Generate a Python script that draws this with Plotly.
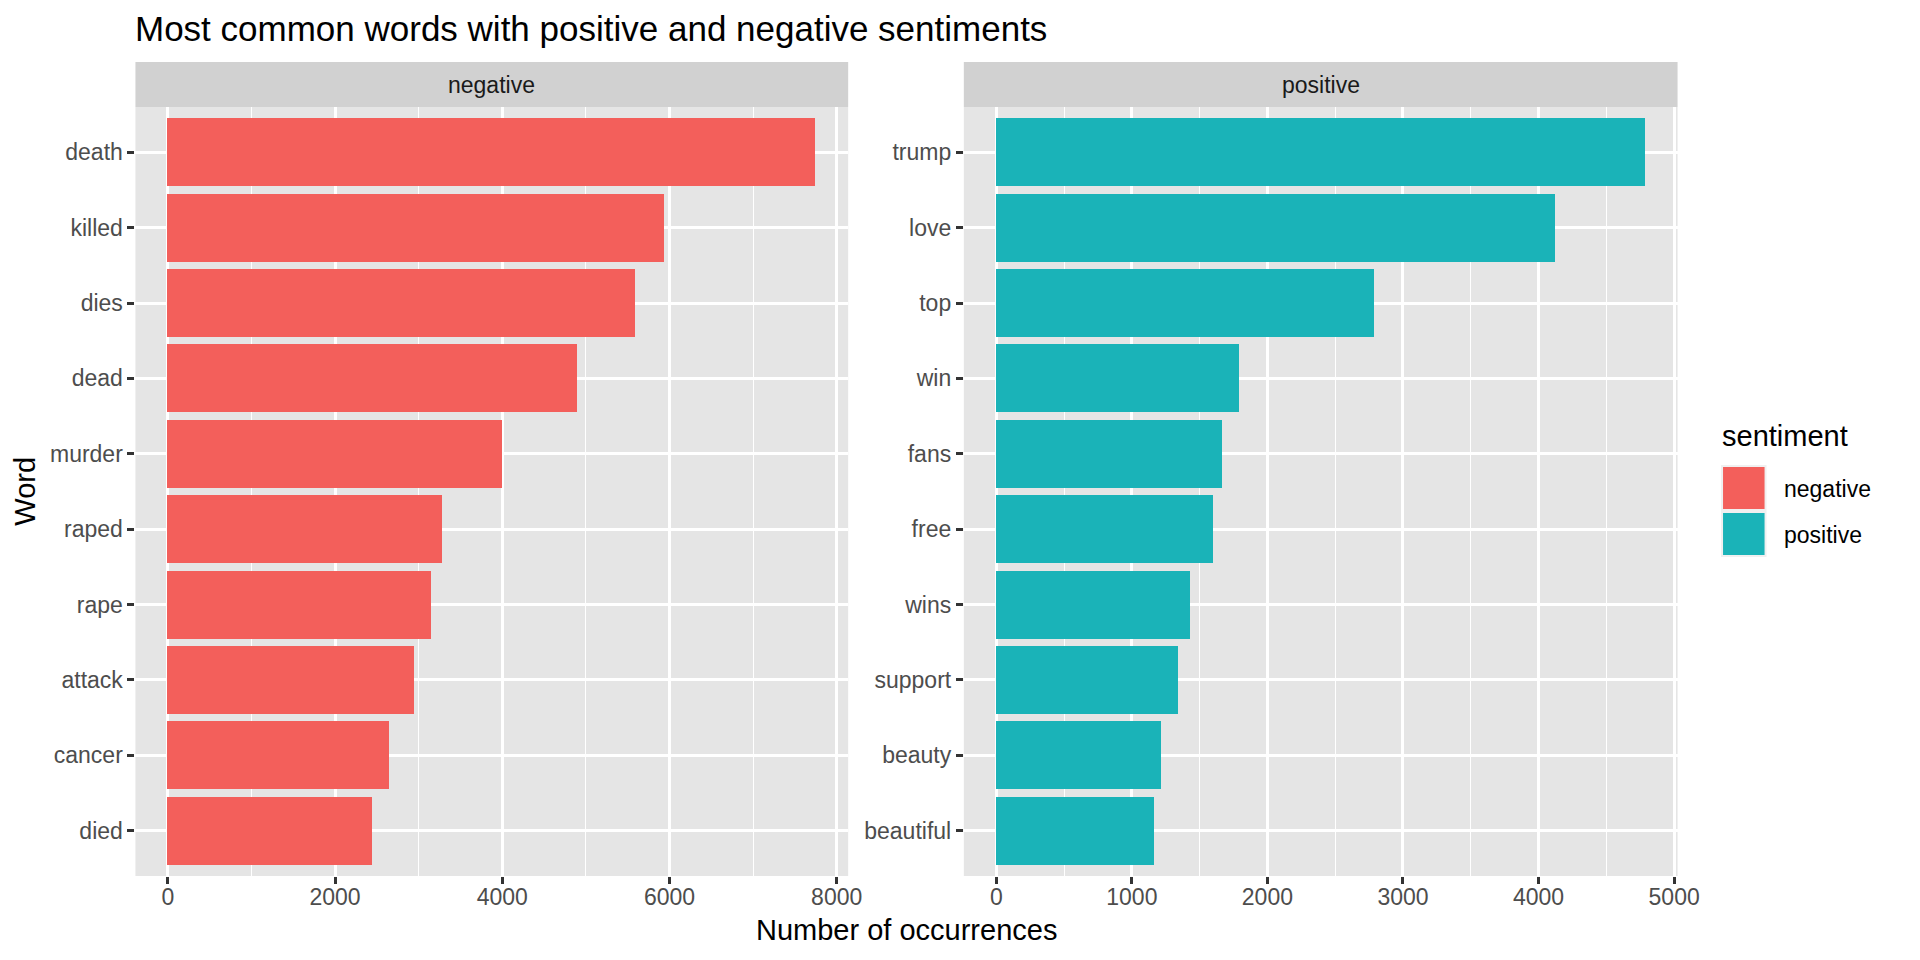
import plotly.graph_objects as go

# word counts
neg_words = ["death", "killed", "dies", "dead", "murder", "raped", "rape", "attack", "cancer", "died"]
neg_counts = [7750, 5943, 5590, 4904, 3997, 3289, 3150, 2952, 2654, 2443]

pos_words = ["trump", "love", "top", "win", "fans", "free", "wins", "support", "beauty", "beautiful"]
pos_counts = [4786, 4117, 2783, 1789, 1664, 1597, 1431, 1336, 1217, 1160]

neg_ticks = [0, 2000, 4000, 6000, 8000]
pos_ticks = [0, 1000, 2000, 3000, 4000, 5000]

NEG_COL = "#F35F5B"
POS_COL = "#1AB3B8"
PANEL = "#E5E5E5"
STRIP = "#D1D1D1"
FONT = "Liberation Sans"
W, H = 1920, 960


def px(v):
    return v / W


def py(v):
    return 1 - v / H


fig = go.Figure()
fig.add_trace(go.Bar(x=neg_counts, y=neg_words, orientation="h", width=0.9,
                     marker=dict(color=NEG_COL, line=dict(width=0)),
                     xaxis="x", yaxis="y", showlegend=False))
fig.add_trace(go.Bar(x=pos_counts, y=pos_words, orientation="h", width=0.9,
                     marker=dict(color=POS_COL, line=dict(width=0)),
                     xaxis="x2", yaxis="y2", showlegend=False))

tickfont = dict(family=FONT, size=23, color="#4D4D4D")


def xax(dom, ticks, mx, minor, anchor):
    return dict(domain=dom, range=[-0.05 * mx, 1.05 * mx], tickvals=ticks, anchor=anchor,
                showgrid=True, gridcolor="white", gridwidth=2.8, zeroline=False,
                ticks="outside", ticklen=7, tickwidth=2.8, tickcolor="#333333",
                tickfont=tickfont, ticklabelstandoff=-7, showline=False, fixedrange=True,
                minor=dict(dtick=minor, tick0=0, showgrid=True, gridcolor="white",
                           gridwidth=1.4, ticks=""))


def yax(dom, words, anchor):
    return dict(domain=dom, type="category", categoryorder="array", categoryarray=words,
                range=[len(words) - 0.4, -0.6], showgrid=True, gridcolor="white",
                gridwidth=2.8, zeroline=False, ticks="outside", ticklen=7, tickwidth=2.8,
                tickcolor="#333333", tickfont=tickfont, anchor=anchor, fixedrange=True)


ydom = [py(876), py(107)]
fig.update_layout(
    width=W, height=H,
    margin=dict(l=0, r=0, t=0, b=0),
    paper_bgcolor="white", plot_bgcolor=PANEL,
    xaxis=xax([px(137), px(858)], neg_ticks, max(neg_counts), 1000, "y"),
    xaxis2=xax([px(975), px(1697)], pos_ticks, max(pos_counts), 500, "y2"),
    yaxis=yax(ydom, neg_words, "x"),
    yaxis2=yax(ydom, pos_words, "x2"),
    bargap=0,
)

shapes = []
annos = []
# facet strips
for (x0, x1), lab in [((137, 858), "negative"), ((975, 1697), "positive")]:
    shapes.append(dict(type="rect", xref="paper", yref="paper", x0=px(x0), x1=px(x1),
                       y0=py(107), y1=py(62), fillcolor=STRIP, line=dict(width=0), layer="below"))
    annos.append(dict(text=lab, xref="paper", yref="paper", x=px((x0 + x1) / 2), y=py(84.5),
                      showarrow=False, xanchor="center", yanchor="middle",
                      font=dict(family=FONT, size=23, color="#1A1A1A")))

# titles
annos.append(dict(text="Most common words with positive and negative sentiments", xref="paper",
                  yref="paper", x=px(135), y=py(29), xanchor="left", yanchor="middle",
                  showarrow=False, font=dict(family=FONT, size=35, color="black")))
annos.append(dict(text="Number of occurrences", xref="paper", yref="paper", x=px(917), y=py(930),
                  xanchor="center", yanchor="middle", showarrow=False,
                  font=dict(family=FONT, size=29, color="black")))
annos.append(dict(text="Word", xref="paper", yref="paper", x=px(25), y=py(491), textangle=-90,
                  xanchor="center", yanchor="middle", showarrow=False,
                  font=dict(family=FONT, size=29, color="black")))

# legend drawn by hand so the keys get ggplot's size
annos.append(dict(text="sentiment", xref="paper", yref="paper", x=px(1740), y=py(436),
                  xanchor="left", yanchor="middle", showarrow=False,
                  font=dict(family=FONT, size=29, color="black")))
for i, (lab, col) in enumerate([("negative", NEG_COL), ("positive", POS_COL)]):
    top = 465 + i * 46
    shapes.append(dict(type="rect", xref="paper", yref="paper", x0=px(1741), x1=px(1787),
                       y0=py(top + 46), y1=py(top), fillcolor="#F0F0F0", line=dict(width=0)))
    shapes.append(dict(type="rect", xref="paper", yref="paper", x0=px(1743), x1=px(1785),
                       y0=py(top + 44), y1=py(top + 2), fillcolor=col, line=dict(width=0)))
    annos.append(dict(text=lab, xref="paper", yref="paper", x=px(1803), y=py(top + 24),
                      xanchor="left", yanchor="middle", showarrow=False,
                      font=dict(family=FONT, size=23, color="black")))

fig.update_layout(shapes=shapes, annotations=annos)
fig.write_html("out.html", config={"displayModeBar": False},
               post_script="document.body.style.margin='0';document.body.style.overflow='hidden';")
